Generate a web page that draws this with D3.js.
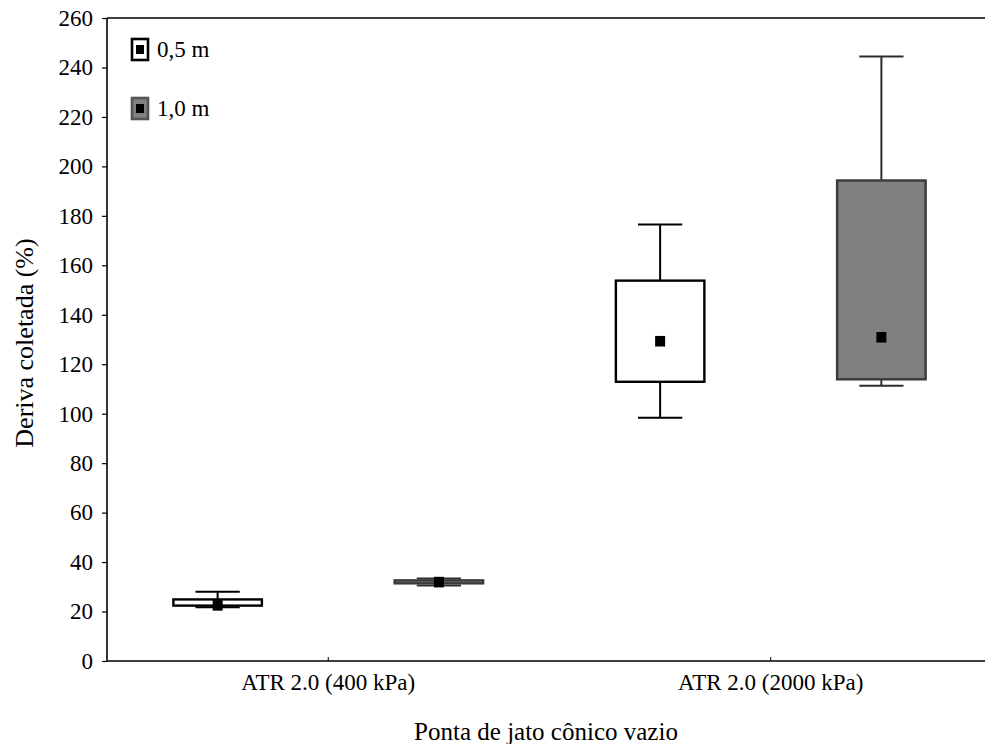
<!DOCTYPE html>
<html lang="pt">
<head>
<meta charset="utf-8">
<style>
  body { margin: 0; background: #fff; }
  svg text { font-family: "Liberation Serif", "DejaVu Serif", serif; fill: #000; }
</style>
</head>
<body>
<svg width="986" height="744"></svg>
<script src="https://cdnjs.cloudflare.com/ajax/libs/d3/7.8.5/d3.min.js"></script>
<script>
// data
var categories = ["ATR 2.0 (400 kPa)", "ATR 2.0 (2000 kPa)"];
var series = ["0,5 m", "1,0 m"];
var means   = { "0,5 m": [22.5, 129.3], "1,0 m": [31.9, 130.9] };
var boxLow  = { "0,5 m": [22.4, 112.9], "1,0 m": [31.4, 113.9] };
var boxHigh = { "0,5 m": [24.9, 153.8], "1,0 m": [32.6, 194.3] };
var whiskLow  = { "0,5 m": [21.7, 98.4], "1,0 m": [30.5, 111.3] };
var whiskHigh = { "0,5 m": [28.0, 176.5], "1,0 m": [33.4, 244.4] };
var yTicks = d3.range(0, 261, 20);

var fills = { "0,5 m": "#ffffff", "1,0 m": "#808080" };
var strokes = { "0,5 m": "#000000", "1,0 m": "#2e2e2e" };
var serif = "'Liberation Serif', 'DejaVu Serif', serif";

var svg = d3.select("svg");
var plotL = 107, plotR = 985, plotT = 18, plotB = 661;

var y = d3.scaleLinear().domain([0, 260]).range([plotB, plotT]);
var x = d3.scaleBand().domain(categories).range([plotL, 992]);
var xs = d3.scaleBand().domain(series).range([0, x.bandwidth()]);
var boxW = xs.bandwidth() * 0.4, capW = xs.bandwidth() * 0.2;

// frame
svg.append("line").attr("x1", plotL).attr("x2", plotR).attr("y1", plotT).attr("y2", plotT)
  .attr("stroke", "#000").attr("stroke-width", 1.6);
svg.append("line").attr("x1", plotL).attr("x2", plotR).attr("y1", plotB).attr("y2", plotB)
  .attr("stroke", "#000").attr("stroke-width", 1.6);
svg.append("line").attr("x1", plotL).attr("x2", plotL).attr("y1", plotT).attr("y2", plotB)
  .attr("stroke", "#000").attr("stroke-width", 1.6);

// y axis
var gy = svg.append("g").attr("transform", "translate(" + plotL + ",0)")
  .call(d3.axisLeft(y).tickValues(yTicks).tickSize(5).tickPadding(9))
  .attr("font-family", serif);
gy.select(".domain").remove();
gy.selectAll(".tick line").attr("stroke-width", 1.2);
gy.selectAll("text").style("font-family", serif).attr("font-size", 23);

// x axis
var gx = svg.append("g").attr("transform", "translate(0," + plotB + ")")
  .call(d3.axisBottom(x).tickSizeInner(-4).tickSizeOuter(0).tickPadding(13))
  .attr("font-family", serif);
gx.select(".domain").remove();
gx.selectAll("text").style("font-family", serif).attr("font-size", 23);

// boxes
series.forEach(function(s) {
  categories.forEach(function(c, i) {
    var cx = x(c) + xs(s) + xs.bandwidth() / 2;
    var g = svg.append("g");
    var col = strokes[s];
    g.append("line").attr("x1", cx).attr("x2", cx)
      .attr("y1", y(boxHigh[s][i])).attr("y2", y(whiskHigh[s][i]))
      .attr("stroke", col).attr("stroke-width", 2);
    g.append("line").attr("x1", cx).attr("x2", cx)
      .attr("y1", y(boxLow[s][i])).attr("y2", y(whiskLow[s][i]))
      .attr("stroke", col).attr("stroke-width", 2);
    [whiskHigh[s][i], whiskLow[s][i]].forEach(function(v) {
      g.append("line").attr("x1", cx - capW / 2).attr("x2", cx + capW / 2)
        .attr("y1", y(v)).attr("y2", y(v))
        .attr("stroke", col).attr("stroke-width", 2);
    });
    g.append("rect")
      .attr("x", cx - boxW / 2).attr("width", boxW)
      .attr("y", y(boxHigh[s][i]))
      .attr("height", y(boxLow[s][i]) - y(boxHigh[s][i]))
      .attr("fill", fills[s]).attr("stroke", s === "0,5 m" ? "#000" : "#3a3a3a").attr("stroke-width", 2.4);
    g.append("rect")
      .attr("x", cx - 5).attr("y", y(means[s][i]) - 5.3)
      .attr("width", 10).attr("height", 10.6).attr("fill", "#000");
  });
});

// legend
var leg = svg.append("g").selectAll("g").data(series).enter().append("g")
  .attr("transform", function(d, i) { return "translate(132," + (39 + i * 59) + ")"; });
leg.append("rect").attr("width", 16).attr("height", 21)
  .attr("fill", function(d) { return fills[d]; })
  .attr("stroke", function(d) { return d === "0,5 m" ? "#000" : "#555"; })
  .attr("stroke-width", 2.6);
leg.append("rect").attr("x", 4).attr("y", 6).attr("width", 8).attr("height", 9).attr("fill", "#000");
leg.append("text").attr("x", 25).attr("y", 18).attr("font-size", 23)
  .text(function(d) { return d; });

// axis titles
svg.append("text").attr("x", 546).attr("y", 740).attr("text-anchor", "middle")
  .attr("font-size", 25).text("Ponta de jato cônico vazio");
svg.append("text").attr("transform", "translate(33,343) rotate(-90)")
  .attr("text-anchor", "middle").attr("font-size", 26).text("Deriva coletada (%)");
</script>
</body>
</html>
